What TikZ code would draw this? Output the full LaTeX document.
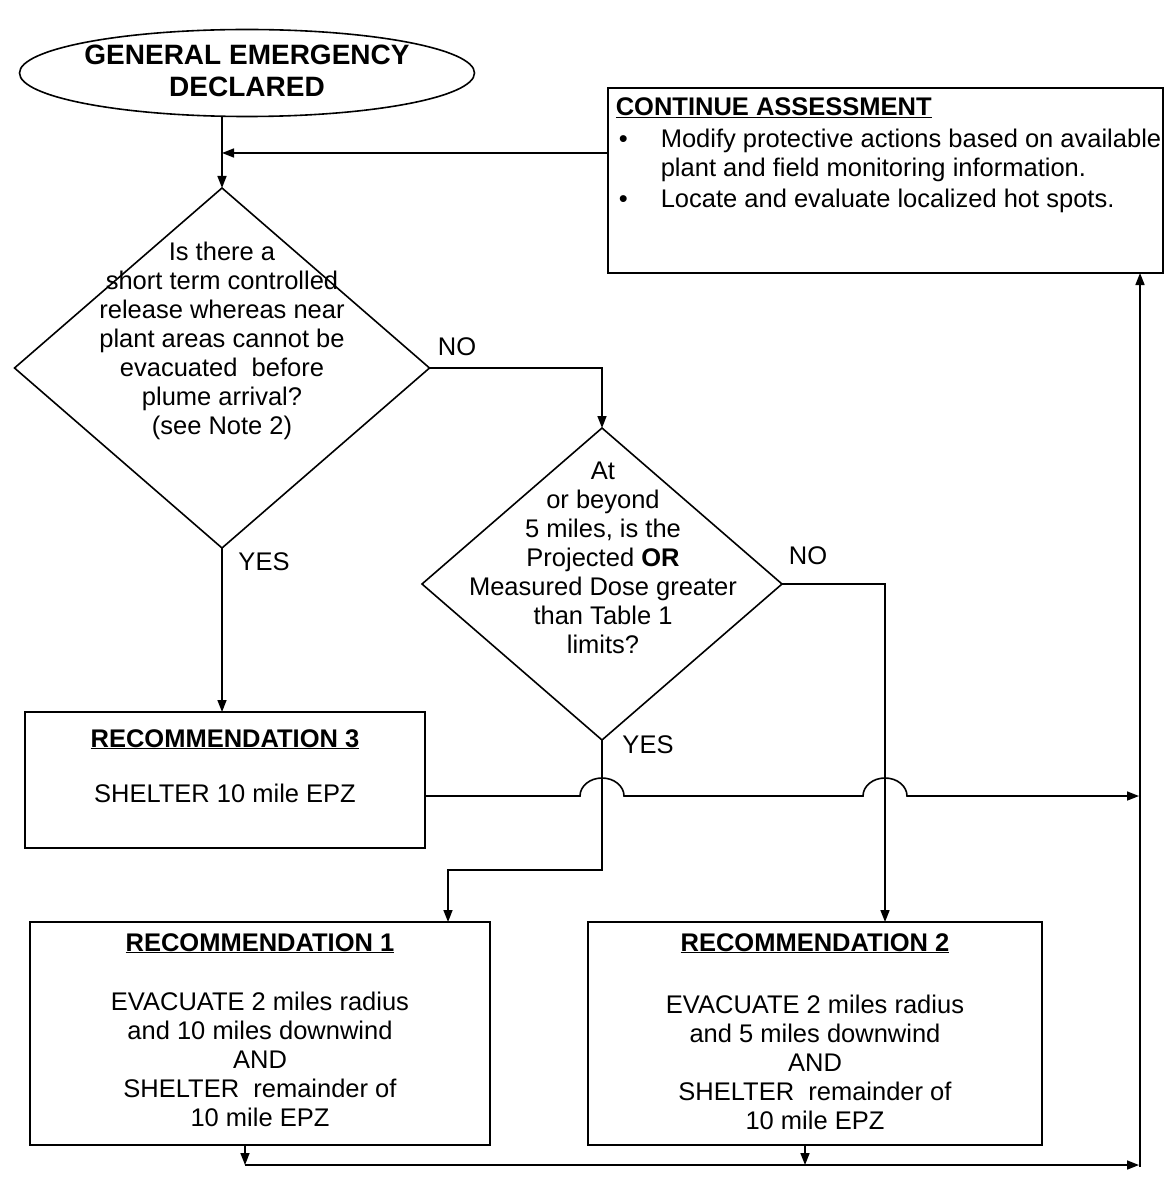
\documentclass[tikz,border=0pt]{standalone}
\usepackage{fontspec}
\setmainfont{Liberation Sans}
\usetikzlibrary{shapes.geometric,arrows.meta}
\begin{document}
\begin{tikzpicture}[x=1pt,y=-1pt,line width=1.6pt,
  >={Triangle[length=12pt,width=9pt]},
  boxs/.style={draw,rectangle,inner sep=0pt,outer sep=0pt},
  dia/.style={draw,diamond,inner sep=0pt,outer sep=0pt},
  txt/.style={font=\fontsize{25.5}{29}\selectfont,align=center,inner sep=0pt},
  ttl/.style={font=\fontsize{25.5}{29}\selectfont\bfseries,inner sep=0pt}]
\useasboundingbox (0,0) rectangle (1165,1198);
\fill[white] (0,0) rectangle (1165,1198);

% start ellipse
\node[draw,ellipse,minimum width=455pt,minimum height=87pt,inner sep=0pt,outer sep=0pt] (start) at (247,73) {};
\node[font=\fontsize{28}{32}\selectfont\bfseries,align=center,inner sep=0pt] (starttxt) at (247,71) {GENERAL EMERGENCY\\DECLARED};

% continue assessment
\node[boxs,minimum width=555pt,minimum height=185pt] (ca) at (885.5,180.5) {};
\node[ttl,anchor=base west] (catitle) at (615,116) {\underline{CONTINUE ASSESSMENT}};
\node[txt,anchor=base west] (cab1) at (618,148) {•};
\node[txt,anchor=base west] (cat1) at (660,148) {Modify protective actions based on available};
\node[txt,anchor=base west] (cat2) at (660,177) {plant and field monitoring information.};
\node[txt,anchor=base west] (cab2) at (618,208) {•};
\node[txt,anchor=base west] (cat3) at (660,208) {Locate and evaluate localized hot spots.};

% diamonds
\node[dia,minimum width=415pt,minimum height=360pt] (d1) at (222,368) {};
\node[txt] (q1) at (222,341) {Is there a\\short term controlled\\release whereas near\\plant areas cannot be\\evacuated\ \ before\\plume arrival?\\(see Note 2)};
\node[dia,minimum width=360pt,minimum height=312pt] (d2) at (602,584) {};
\node[txt] (q2) at (603,558) {At\\or beyond\\5 miles, is the\\Projected \textbf{OR}\\Measured Dose greater\\than Table 1\\limits?};

% recommendation boxes
\node[boxs,minimum width=400pt,minimum height=136pt] (rec3) at (225,780) {};
\node[ttl,anchor=base] (r3t) at (225,747) {\underline{RECOMMENDATION 3}};
\node[txt] (r3b) at (225,793) {SHELTER 10 mile EPZ};

\node[boxs,minimum width=460pt,minimum height=223pt] (rec1) at (260,1033.5) {};
\node[ttl,anchor=base] (r1t) at (260,951) {\underline{RECOMMENDATION 1}};
\node[txt] (r1b) at (260,1059) {EVACUATE 2 miles radius\\and 10 miles downwind\\AND\\SHELTER\ \ remainder of\\10 mile EPZ};

\node[boxs,minimum width=454pt,minimum height=223pt] (rec2) at (815,1033.5) {};
\node[ttl,anchor=base] (r2t) at (815,951) {\underline{RECOMMENDATION 2}};
\node[txt] (r2b) at (815,1062) {EVACUATE 2 miles radius\\and 5 miles downwind\\AND\\SHELTER\ \ remainder of\\10 mile EPZ};

% labels
\node[txt] (no1) at (457,347) {NO};
\node[txt] (no2) at (808,556) {NO};
\node[txt] (yes1) at (264,562) {YES};
\node[txt] (yes2) at (648,745) {YES};

% coordinates
\coordinate (m1) at (222,153);
\coordinate (j1) at (602,796);
\coordinate (j2) at (885,796);
\coordinate (r1) at (1140,796);
\coordinate (k1) at (448,870);
\coordinate (b1) at (245,1165);
\coordinate (b2) at (805,1165);
\coordinate (br) at (1140,1165);

% connectors
\draw[->] (start.south -| d1.north) -- (d1.north);
\draw[->] (ca.west |- m1) -- (m1);
\draw[->] (d1.east) -| (d2.north);
\draw[->] (d1.south) -- (d1.south |- rec3.north);
\draw[->] (d2.east) -| (j2 |- rec2.north);
\draw[->] (d2.south) -- (d2.south |- k1) -- (k1) -- (k1 |- rec1.north);
\draw[->,shorten >=1pt] (rec3.east |- j1) -- ([xshift=-22pt]j1)
  arc[start angle=180,end angle=0,x radius=22pt,y radius=18pt]
  -- ([xshift=-22pt]j2)
  arc[start angle=180,end angle=0,x radius=22pt,y radius=18pt]
  -- (r1);
\draw[->] (rec1.south -| b1) -- (b1);
\draw[->] (rec2.south -| b2) -- (b2);
\draw[->,shorten >=1pt] (b1) -- (br);
\draw[->] ([yshift=-2pt]br) -- (br |- ca.south);
\end{tikzpicture}
\end{document}
